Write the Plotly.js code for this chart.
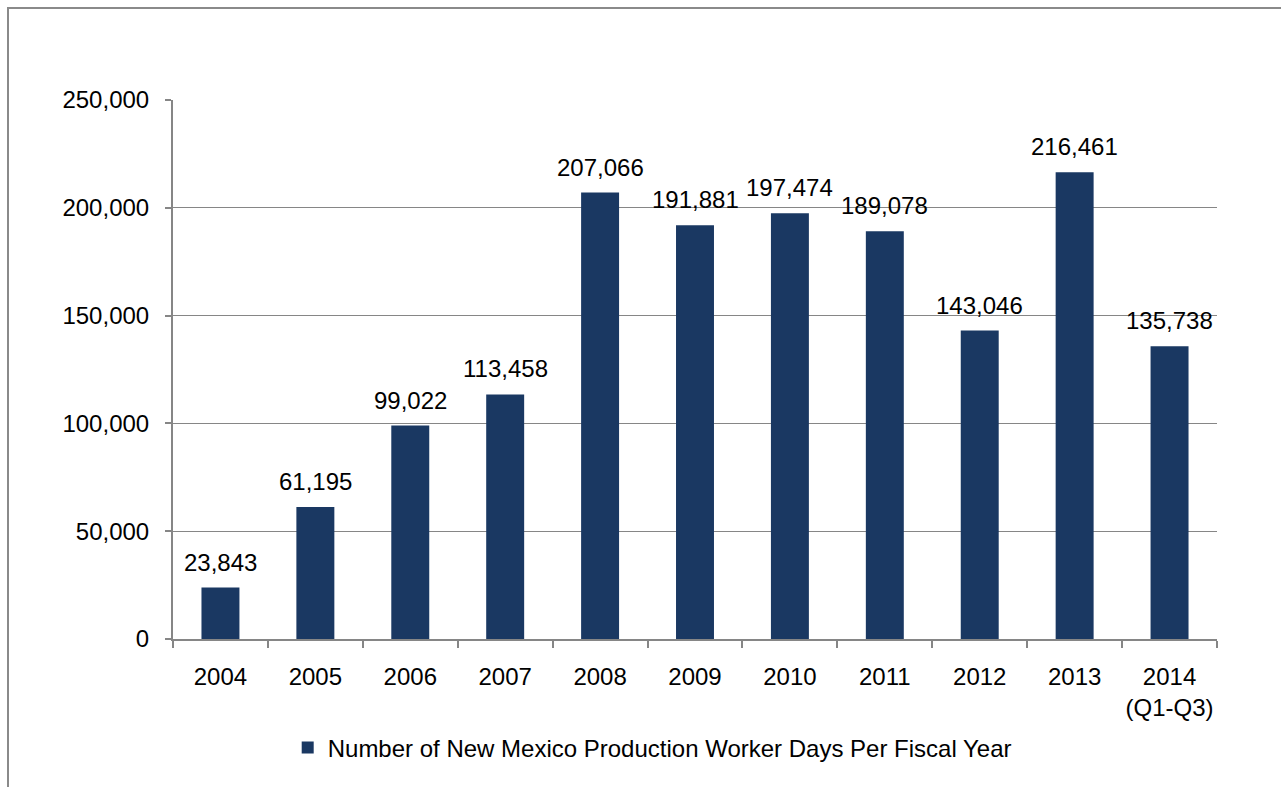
<!DOCTYPE html>
<html>
<head>
<meta charset="utf-8">
<script src="https://cdn.plot.ly/plotly-3.0.1.min.js"></script>
<style>
html,body{margin:0;padding:0;background:#fff;}
#wrap{position:relative;width:1281px;height:787px;}
#chart{width:1281px;height:787px;}
#frame{position:absolute;left:7px;top:7px;width:1300px;height:800px;border-left:2px solid #8a8a8a;border-top:2px solid #8a8a8a;pointer-events:none;}
</style>
</head>
<body>
<div id="wrap"><div id="chart"></div><div id="frame"></div></div>
<script>
const categories = ["2004","2005","2006","2007","2008","2009","2010","2011","2012","2013","2014<br>(Q1-Q3)"];
const workerDays = [23843, 61195, 99022, 113458, 207066, 191881, 197474, 189078, 143046, 216461, 135738];
const seriesName = "Number of New Mexico Production Worker Days Per Fiscal Year";
const yTickVals = [0, 50000, 100000, 150000, 200000, 250000];
const yTickText = ["0", "50,000", "100,000", "150,000", "200,000", "250,000"];

const fmt = v => v.toLocaleString("en-US");
const font = {family: "Liberation Sans, Arial, sans-serif", size: 24, color: "#000"};

const trace = {
  type: "bar",
  x: categories,
  y: workerDays,
  name: seriesName,
  marker: {color: "#1a3862"},
  hoverinfo: "skip"
};

const annotations = categories.map((c, i) => ({
  x: i, y: workerDays[i], xref: "x", yref: "y",
  text: fmt(workerDays[i]), showarrow: false,
  yanchor: "bottom", yshift: 10, font: font
}));

const layout = {
  width: 1281, height: 787,
  margin: {l: 173, r: 64, t: 100, b: 148, pad: 0},
  paper_bgcolor: "#fff", plot_bgcolor: "#fff",
  font: font,
  bargap: 0.6,
  showlegend: true,
  annotations: annotations,
  legend: {orientation: "h", x: 0.459, xanchor: "center", y: -0.202, yanchor: "middle", font: font, itemwidth: 30},
  xaxis: {
    type: "category", tickangle: 0,
    range: [-0.5, categories.length - 0.5],
    showline: true, linecolor: "#868686", linewidth: 2,
    ticks: "outside", tickson: "boundaries", ticklen: 7, tickcolor: "#868686", tickwidth: 2,
    showgrid: false, tickfont: font, ticklabelstandoff: 15
  },
  yaxis: {
    range: [0, 250000],
    tickvals: yTickVals, ticktext: yTickText,
    showline: true, linecolor: "#868686", linewidth: 2,
    ticks: "outside", ticklen: 6, tickcolor: "#868686", tickwidth: 2,
    showgrid: true, gridcolor: "#868686", gridwidth: 1,
    zeroline: false, tickfont: font, ticklabelstandoff: 11
  }
};

Plotly.newPlot("chart", [trace], layout, {displayModeBar: false, staticPlot: true});
</script>
</body>
</html>
